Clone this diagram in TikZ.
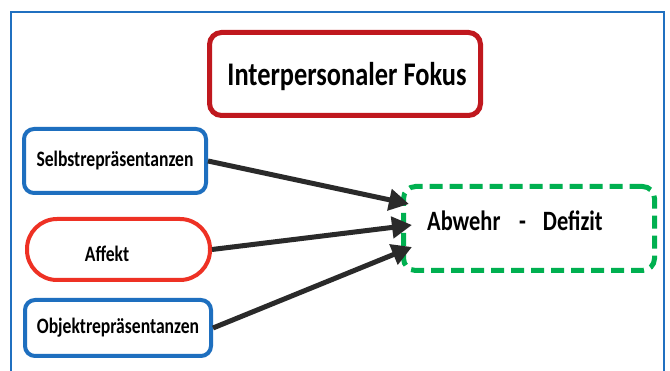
\documentclass[tikz,border=0pt]{standalone}
\usepackage{fontspec}
\setmainfont{Carlito}
\usetikzlibrary{arrows.meta}
\definecolor{frameblue}{HTML}{2070C0}
\definecolor{boxblue}{HTML}{1E6FBF}
\definecolor{darkred}{HTML}{C0181E}
\definecolor{brightred}{HTML}{EE3124}
\definecolor{dgreen}{HTML}{00B050}
\definecolor{arrowgray}{HTML}{2A2A2A}
\newcommand{\lbl}[2]{\scalebox{0.8}[1]{\fontsize{#1}{#1}\selectfont\bfseries #2}}
\tikzset{
  box/.style={draw, line width=4pt, rounded corners=10pt, fill=white, inner sep=0pt},
  conn/.style={draw=arrowgray, line width=5pt, -{Triangle[length=20pt,width=21pt]}, shorten >=0pt},
}
\begin{document}
\begin{tikzpicture}[x=1pt,y=-1pt]
\useasboundingbox (0,0) rectangle (670,371);
\fill[white] (0,0) rectangle (670,371);
\draw[frameblue, line width=1.4pt] (11,380) -- (11,12) -- (664,12) -- (664,380);
\node[box, draw=darkred, line width=5pt, minimum width=271pt, minimum height=83pt, rounded corners=12pt] (title) at (345,74) {};
\node (titletext) at (347,77) {\lbl{33pt}{Interpersonaler Fokus}};
\node[box, draw=boxblue, minimum width=182pt, minimum height=64pt] (selbst) at (115,161) {\lbl{22pt}{Selbstrepräsentanzen}};
\node[box, draw=brightred, minimum width=183pt, minimum height=61pt, rounded corners=30pt] (affekt) at (118.5,249.5) {};
\node (affekttext) at (107,254) {\lbl{22pt}{Affekt}};
\node[box, draw=boxblue, minimum width=186pt, minimum height=56pt] (objekt) at (118,328) {\lbl{22pt}{Objektrepräsentanzen}};
\node[box, draw=dgreen, line width=5pt, dash pattern=on 13pt off 7pt, minimum width=251pt, minimum height=84pt, rounded corners=12pt] (abw) at (529,228.5) {};
\node[anchor=west, inner sep=0pt] (abwtext) at (427,221) {\lbl{28pt}{Abwehr\hspace*{23.5pt}-\hspace*{21pt}Defizit}};
\coordinate (t1) at (409,204);
\coordinate (t2) at (412,225);
\coordinate (t3) at (412,247);
\draw[conn] (selbst.east) -- (t1);
\draw[conn] (affekt.east) -- (t2);
\draw[conn] (objekt.east) -- (t3);
\end{tikzpicture}
\end{document}
